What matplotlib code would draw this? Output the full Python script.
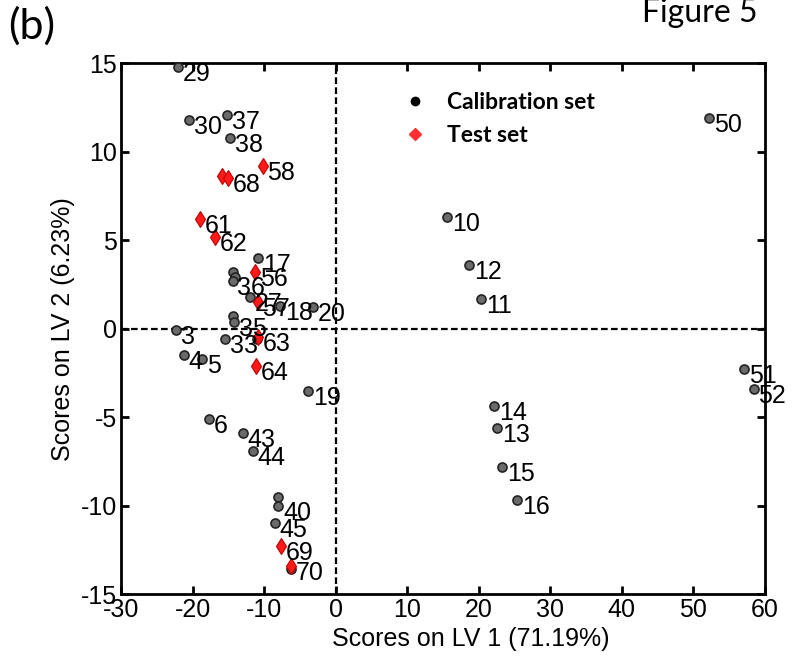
import matplotlib
matplotlib.use("Agg")
import matplotlib.pyplot as plt
from matplotlib.lines import Line2D

# Calibration set scores (LV1, LV2) and sample labels ("" = no label shown)
cal_x = [-22.1, -20.5, -15.2, -14.8, -10.8, -14.4, -14.1, -14.4, -12.0, -7.8,
         -3.2, -14.4, -14.2, -22.3, -15.4, -21.2, -18.7, -11.0, -3.8, -17.7,
         -13.0, -11.6, -8.0, -8.0, -8.5, -6.3, 15.6, 18.7, 20.3, 22.1,
         22.6, 23.3, 25.4, 52.2, 57.1, 58.4]
cal_y = [14.8, 11.8, 12.1, 10.8, 4.0, 3.2, 2.9, 2.7, 1.8, 1.3,
         1.2, 0.7, 0.4, -0.1, -0.6, -1.5, -1.7, -0.6, -3.5, -5.1,
         -5.9, -6.9, -9.5, -10.0, -11.0, -13.6, 6.3, 3.6, 1.7, -4.4,
         -5.6, -7.8, -9.7, 11.9, -2.3, -3.4]
cal_labels = ["29", "30", "37", "38", "17", "", "", "36", "27", "18",
              "20", "", "35", "3", "33", "4", "5", "", "19", "6",
              "43", "44", "", "40", "45", "", "10", "12", "11", "14",
              "13", "15", "16", "50", "51", "52"]

# Test set scores
test_x = [-10.2, -15.9, -15.1, -19.0, -16.9, -11.3, -10.9, -10.8, -11.2, -7.7, -6.3]
test_y = [9.2, 8.6, 8.5, 6.2, 5.2, 3.2, 1.5, -0.5, -2.1, -12.3, -13.4]
test_labels = ["58", "", "68", "61", "62", "56", "57", "63", "64", "69", "70"]

x_ticks = [-30, -20, -10, 0, 10, 20, 30, 40, 50, 60]
y_ticks = [-15, -10, -5, 0, 5, 10, 15]

plt.rcParams['font.family'] = ['Liberation Sans', 'DejaVu Sans']
plt.rcParams['axes.unicode_minus'] = False

fig = plt.figure(figsize=(7.96, 6.59), dpi=100)
ax = fig.add_axes([0.152, 0.0986, 0.809, 0.8054])

ax.axhline(0, color='black', lw=1.6, ls=(0, (3, 1.5)), zorder=1)
ax.axvline(0, color='black', lw=1.6, ls=(0, (3, 1.5)), zorder=1)

ax.plot(cal_x, cal_y, 'o', ms=6.5, mfc='#6a6a6a', mec='#222222', mew=1.2, zorder=3)
ax.plot(test_x, test_y, 'd', ms=8, mfc='#ff1a1a', mec='#c00000', mew=0.8, zorder=4)

for xs, ys, labs in [(cal_x, cal_y, cal_labels), (test_x, test_y, test_labels)]:
    for x, y, lab in zip(xs, ys, labs):
        if lab:
            ax.annotate(lab, (x, y), xytext=(3.5, -5), textcoords='offset points',
                        ha='left', va='center', fontsize=18, zorder=5)

ax.set_xlim(-30, 60)
ax.set_ylim(-15, 15)
ax.set_xticks(x_ticks)
ax.set_yticks(y_ticks)
ax.tick_params(direction='in', top=True, right=True, length=6, width=2,
               labelsize=18, pad=3)
for s in ax.spines.values():
    s.set_linewidth(2)

ax.set_xlabel('Scores on LV 1 (71.19%)', fontsize=18)
ax.xaxis.set_label_coords(0.543, -0.062)
ax.set_ylabel('Scores on LV 2 (6.23%)', fontsize=18)

handles = [Line2D([], [], marker='o', ls='none', color='black', ms=6),
           Line2D([], [], marker='D', ls='none', color='#ff3030', ms=6)]
ax.legend(handles, ['Calibration set', 'Test set'], loc='upper left',
          bbox_to_anchor=(0.41, 0.985), frameon=False, handlelength=0.8,
          handletextpad=1.0, labelspacing=0.55,
          prop={'family': 'Lato', 'weight': 'bold', 'size': 16.5})

fig.text(8 / 796, 1 - 6 / 659, '(b)', fontsize=31, family='Lato', va='top', ha='left')
fig.text(642 / 796, 1 - 22 / 659, 'Figure 5', fontsize=23, family='Lato',
         va='baseline', ha='left')

fig.savefig('out.png', dpi=100)
